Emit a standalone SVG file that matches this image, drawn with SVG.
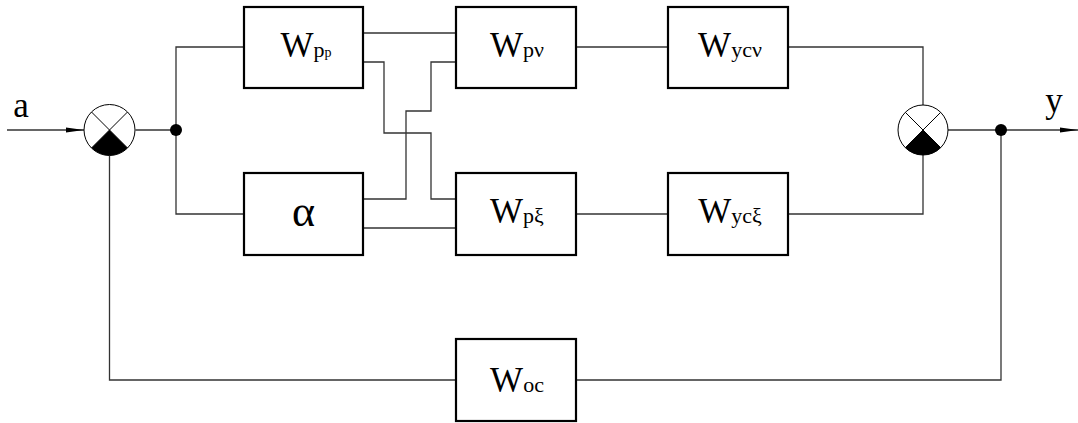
<svg xmlns="http://www.w3.org/2000/svg" width="1078" height="423" viewBox="0 0 1078 423">
<defs>
<style>
.box{fill:#fff;stroke:#000;stroke-width:2.2}
.ln{fill:none;stroke:#333;stroke-width:1.3}
.sum{fill:#fff;stroke:#000;stroke-width:1}
</style>
<marker id="arr" markerUnits="userSpaceOnUse" markerWidth="20" markerHeight="8" refX="18" refY="3.5" orient="auto">
<path d="M0,1 L18,3.5 L0,6 Z" fill="#000"/>
</marker>
</defs>
<rect width="1078" height="423" fill="#fff"/>
<g id="connectors">
<path class="ln" d="M7,130 H84" marker-end="url(#arr)"/>
<path class="ln" d="M135.5,130 H176"/>
<path class="ln" d="M244,47 H176 V214 H244"/>
<path class="ln" d="M363,33 H456"/>
<path class="ln" d="M363,62 H384 V133 H431 V199 H456"/>
<path class="ln" d="M363,199 H406 V111 H431 V62 H456"/>
<path class="ln" d="M363,228 H456"/>
<path class="ln" d="M576,47 H668"/>
<path class="ln" d="M576,214 H668"/>
<path class="ln" d="M788,47 H923 V105"/>
<path class="ln" d="M788,214 H923 V155"/>
<path class="ln" d="M948,130 H1078" marker-end="url(#arr)"/>
<path class="ln" d="M1001,130 V380 H576"/>
<path class="ln" d="M456,380 H109.5 V155.5"/>
</g>
<g id="sum1">
<circle class="sum" cx="109.5" cy="130" r="25.5"/>
<path d="M109.5,130 L127.5,148 A25.5,25.5 0 0 1 91.5,148 Z" fill="#000"/>
<path d="M91.5,112 L127.5,148 M127.5,112 L91.5,148" stroke="#000" stroke-width="1"/>
</g>
<g id="sum2">
<circle class="sum" cx="923" cy="130" r="25"/>
<path d="M923,130 L940.7,147.7 A25,25 0 0 1 905.3,147.7 Z" fill="#000"/>
<path d="M905.3,112.3 L940.7,147.7 M940.7,112.3 L905.3,147.7" stroke="#000" stroke-width="1"/>
</g>
<g id="dot1"><circle cx="176" cy="130" r="6" fill="#000"/></g>
<g id="dot2"><circle cx="1001" cy="130" r="6" fill="#000"/></g>
<g font-family="'Times New Roman', 'Liberation Serif', 'DejaVu Serif', serif" font-size="35" fill="#000" text-anchor="middle">
<g id="label-a"><text x="21" y="117">a</text></g>
<g id="label-y"><text x="1054" y="112">y</text></g>
<g id="Wpp">
<rect class="box" x="244" y="7" width="119" height="81"/>
<text x="306" y="57">W<tspan font-size="22">p</tspan><tspan font-size="14">p</tspan></text>
</g>
<g id="Wpv">
<rect class="box" x="456" y="7" width="120" height="81"/>
<text x="517" y="57">W<tspan font-size="22">pν</tspan></text>
</g>
<g id="Wycv">
<rect class="box" x="668" y="7" width="120" height="81"/>
<text x="730" y="57">W<tspan font-size="22">ycν</tspan></text>
</g>
<g id="alpha">
<rect class="box" x="244" y="173" width="119" height="82"/>
<text x="303.5" y="226" font-size="44">α</text>
</g>
<g id="Wpxi">
<rect class="box" x="456" y="173" width="120" height="82"/>
<text x="517" y="223">W<tspan font-size="22">pξ</tspan></text>
</g>
<g id="Wycxi">
<rect class="box" x="668" y="173" width="120" height="82"/>
<text x="730" y="223">W<tspan font-size="22">ycξ</tspan></text>
</g>
<g id="Woc">
<rect class="box" x="456" y="339" width="120" height="82"/>
<text x="517" y="392">W<tspan font-size="22">oc</tspan></text>
</g>
</g>
</svg>
